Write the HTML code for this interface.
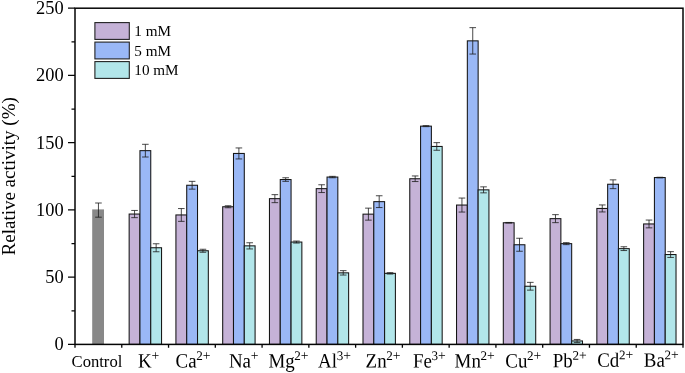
<!DOCTYPE html>
<html lang="en"><head><meta charset="utf-8"><title>Relative activity</title>
<style>html,body{margin:0;padding:0;background:#fff;}body{width:685px;height:373px;overflow:hidden;}svg{display:block;}text{font-family:"Liberation Serif","Times New Roman",serif;fill:#000;}</style>
</head><body>
<svg width="685" height="373" viewBox="0 0 685 373">
<rect x="0" y="0" width="685" height="373" fill="#ffffff"/>
<g>
<rect x="92.2" y="209.4" width="11.8" height="135" fill="#888888"/>
<path d="M98.45 203V217.2M95.15 203H101.75M95.15 217.2H101.75" fill="none" stroke="#1c1c1c" stroke-width="0.8"/>
</g>
<g>
<rect x="129.15" y="214.05" width="10.8" height="130.35" fill="#C5B2D7" stroke="#141414" stroke-width="1.05"/>
<rect x="139.95" y="150.65" width="10.8" height="193.75" fill="#9AB8F6" stroke="#141414" stroke-width="1.05"/>
<rect x="150.75" y="247.75" width="10.8" height="96.65" fill="#B2E6EA" stroke="#141414" stroke-width="1.05"/>
<path d="M134.55 210.45V217.65M131.25 210.45H137.85M131.25 217.65H137.85" fill="none" stroke="#1c1c1c" stroke-width="0.8"/>
<path d="M145.35 144.3V157M142.05 144.3H148.65M142.05 157H148.65" fill="none" stroke="#1c1c1c" stroke-width="0.8"/>
<path d="M156.15 243.75V251.75M152.85 243.75H159.45M152.85 251.75H159.45" fill="none" stroke="#1c1c1c" stroke-width="0.8"/>
</g>
<g>
<rect x="175.92" y="214.95" width="10.8" height="129.45" fill="#C5B2D7" stroke="#141414" stroke-width="1.05"/>
<rect x="186.72" y="185.25" width="10.8" height="159.15" fill="#9AB8F6" stroke="#141414" stroke-width="1.05"/>
<rect x="197.52" y="250.75" width="10.8" height="93.65" fill="#B2E6EA" stroke="#141414" stroke-width="1.05"/>
<path d="M181.32 208.55V221.35M178.02 208.55H184.62M178.02 221.35H184.62" fill="none" stroke="#1c1c1c" stroke-width="0.8"/>
<path d="M192.12 181.35V189.15M188.82 181.35H195.42M188.82 189.15H195.42" fill="none" stroke="#1c1c1c" stroke-width="0.8"/>
<path d="M202.92 249.25V252.25M199.62 249.25H206.22M199.62 252.25H206.22" fill="none" stroke="#1c1c1c" stroke-width="0.8"/>
</g>
<g>
<rect x="222.69" y="206.75" width="10.8" height="137.65" fill="#C5B2D7" stroke="#141414" stroke-width="1.05"/>
<rect x="233.49" y="153.45" width="10.8" height="190.95" fill="#9AB8F6" stroke="#141414" stroke-width="1.05"/>
<rect x="244.29" y="245.85" width="10.8" height="98.55" fill="#B2E6EA" stroke="#141414" stroke-width="1.05"/>
<path d="M228.09 205.75V207.75M224.79 205.75H231.39M224.79 207.75H231.39" fill="none" stroke="#1c1c1c" stroke-width="0.8"/>
<path d="M238.89 147.95V158.95M235.59 147.95H242.19M235.59 158.95H242.19" fill="none" stroke="#1c1c1c" stroke-width="0.8"/>
<path d="M249.69 242.75V248.95M246.39 242.75H252.99M246.39 248.95H252.99" fill="none" stroke="#1c1c1c" stroke-width="0.8"/>
</g>
<g>
<rect x="269.46" y="198.65" width="10.8" height="145.75" fill="#C5B2D7" stroke="#141414" stroke-width="1.05"/>
<rect x="280.26" y="179.55" width="10.8" height="164.85" fill="#9AB8F6" stroke="#141414" stroke-width="1.05"/>
<rect x="291.06" y="242.05" width="10.8" height="102.35" fill="#B2E6EA" stroke="#141414" stroke-width="1.05"/>
<path d="M274.86 194.65V202.65M271.56 194.65H278.16M271.56 202.65H278.16" fill="none" stroke="#1c1c1c" stroke-width="0.8"/>
<path d="M285.66 177.75V181.35M282.36 177.75H288.96M282.36 181.35H288.96" fill="none" stroke="#1c1c1c" stroke-width="0.8"/>
<path d="M296.46 241.05V243.05M293.16 241.05H299.76M293.16 243.05H299.76" fill="none" stroke="#1c1c1c" stroke-width="0.8"/>
</g>
<g>
<rect x="316.23" y="188.65" width="10.8" height="155.75" fill="#C5B2D7" stroke="#141414" stroke-width="1.05"/>
<rect x="327.03" y="177.05" width="10.8" height="167.35" fill="#9AB8F6" stroke="#141414" stroke-width="1.05"/>
<rect x="337.83" y="272.85" width="10.8" height="71.55" fill="#B2E6EA" stroke="#141414" stroke-width="1.05"/>
<path d="M321.63 184.75V192.55M318.33 184.75H324.93M318.33 192.55H324.93" fill="none" stroke="#1c1c1c" stroke-width="0.8"/>
<path d="M332.43 176.35V177.75M329.13 176.35H335.73M329.13 177.75H335.73" fill="none" stroke="#1c1c1c" stroke-width="0.8"/>
<path d="M343.23 270.65V275.05M339.93 270.65H346.53M339.93 275.05H346.53" fill="none" stroke="#1c1c1c" stroke-width="0.8"/>
</g>
<g>
<rect x="363" y="214.15" width="10.8" height="130.25" fill="#C5B2D7" stroke="#141414" stroke-width="1.05"/>
<rect x="373.8" y="201.65" width="10.8" height="142.75" fill="#9AB8F6" stroke="#141414" stroke-width="1.05"/>
<rect x="384.6" y="273.35" width="10.8" height="71.05" fill="#B2E6EA" stroke="#141414" stroke-width="1.05"/>
<path d="M368.4 208.15V220.15M365.1 208.15H371.7M365.1 220.15H371.7" fill="none" stroke="#1c1c1c" stroke-width="0.8"/>
<path d="M379.2 195.75V207.55M375.9 195.75H382.5M375.9 207.55H382.5" fill="none" stroke="#1c1c1c" stroke-width="0.8"/>
<path d="M390 272.65V274.05M386.7 272.65H393.3M386.7 274.05H393.3" fill="none" stroke="#1c1c1c" stroke-width="0.8"/>
</g>
<g>
<rect x="409.77" y="178.75" width="10.8" height="165.65" fill="#C5B2D7" stroke="#141414" stroke-width="1.05"/>
<rect x="420.57" y="126.15" width="10.8" height="218.25" fill="#9AB8F6" stroke="#141414" stroke-width="1.05"/>
<rect x="431.37" y="146.45" width="10.8" height="197.95" fill="#B2E6EA" stroke="#141414" stroke-width="1.05"/>
<path d="M415.17 175.95V181.55M411.87 175.95H418.47M411.87 181.55H418.47" fill="none" stroke="#1c1c1c" stroke-width="0.8"/>
<path d="M425.97 125.65V126.65M422.67 125.65H429.27M422.67 126.65H429.27" fill="none" stroke="#1c1c1c" stroke-width="0.8"/>
<path d="M436.77 142.65V150.25M433.47 142.65H440.07M433.47 150.25H440.07" fill="none" stroke="#1c1c1c" stroke-width="0.8"/>
</g>
<g>
<rect x="456.54" y="205.05" width="10.8" height="139.35" fill="#C5B2D7" stroke="#141414" stroke-width="1.05"/>
<rect x="467.34" y="40.85" width="10.8" height="303.55" fill="#9AB8F6" stroke="#141414" stroke-width="1.05"/>
<rect x="478.14" y="189.85" width="10.8" height="154.55" fill="#B2E6EA" stroke="#141414" stroke-width="1.05"/>
<path d="M461.94 198.05V212.05M458.64 198.05H465.24M458.64 212.05H465.24" fill="none" stroke="#1c1c1c" stroke-width="0.8"/>
<path d="M472.74 27.65V54.05M469.44 27.65H476.04M469.44 54.05H476.04" fill="none" stroke="#1c1c1c" stroke-width="0.8"/>
<path d="M483.54 186.85V192.85M480.24 186.85H486.84M480.24 192.85H486.84" fill="none" stroke="#1c1c1c" stroke-width="0.8"/>
</g>
<g>
<rect x="503.31" y="222.75" width="10.8" height="121.65" fill="#C5B2D7" stroke="#141414" stroke-width="1.05"/>
<rect x="514.11" y="244.75" width="10.8" height="99.65" fill="#9AB8F6" stroke="#141414" stroke-width="1.05"/>
<rect x="524.91" y="286.25" width="10.8" height="58.15" fill="#B2E6EA" stroke="#141414" stroke-width="1.05"/>
<path d="M508.71 222.45V223.05M505.41 222.45H512.01M505.41 223.05H512.01" fill="none" stroke="#1c1c1c" stroke-width="0.8"/>
<path d="M519.51 238.25V251.25M516.21 238.25H522.81M516.21 251.25H522.81" fill="none" stroke="#1c1c1c" stroke-width="0.8"/>
<path d="M530.31 282.35V290.15M527.01 282.35H533.61M527.01 290.15H533.61" fill="none" stroke="#1c1c1c" stroke-width="0.8"/>
</g>
<g>
<rect x="550.08" y="218.65" width="10.8" height="125.75" fill="#C5B2D7" stroke="#141414" stroke-width="1.05"/>
<rect x="560.88" y="243.65" width="10.8" height="100.75" fill="#9AB8F6" stroke="#141414" stroke-width="1.05"/>
<rect x="571.68" y="340.95" width="10.8" height="3.45" fill="#B2E6EA" stroke="#141414" stroke-width="1.05"/>
<path d="M555.48 214.65V222.65M552.18 214.65H558.78M552.18 222.65H558.78" fill="none" stroke="#1c1c1c" stroke-width="0.8"/>
<path d="M566.28 242.65V244.65M562.98 242.65H569.58M562.98 244.65H569.58" fill="none" stroke="#1c1c1c" stroke-width="0.8"/>
<path d="M577.08 339.45V342.45M573.78 339.45H580.38M573.78 342.45H580.38" fill="none" stroke="#1c1c1c" stroke-width="0.8"/>
</g>
<g>
<rect x="596.85" y="208.45" width="10.8" height="135.95" fill="#C5B2D7" stroke="#141414" stroke-width="1.05"/>
<rect x="607.65" y="184.25" width="10.8" height="160.15" fill="#9AB8F6" stroke="#141414" stroke-width="1.05"/>
<rect x="618.45" y="248.65" width="10.8" height="95.75" fill="#B2E6EA" stroke="#141414" stroke-width="1.05"/>
<path d="M602.25 204.95V211.95M598.95 204.95H605.55M598.95 211.95H605.55" fill="none" stroke="#1c1c1c" stroke-width="0.8"/>
<path d="M613.05 179.85V188.65M609.75 179.85H616.35M609.75 188.65H616.35" fill="none" stroke="#1c1c1c" stroke-width="0.8"/>
<path d="M623.85 246.75V250.55M620.55 246.75H627.15M620.55 250.55H627.15" fill="none" stroke="#1c1c1c" stroke-width="0.8"/>
</g>
<g>
<rect x="643.62" y="223.95" width="10.8" height="120.45" fill="#C5B2D7" stroke="#141414" stroke-width="1.05"/>
<rect x="654.42" y="177.55" width="10.8" height="166.85" fill="#9AB8F6" stroke="#141414" stroke-width="1.05"/>
<rect x="665.22" y="254.55" width="10.8" height="89.85" fill="#B2E6EA" stroke="#141414" stroke-width="1.05"/>
<path d="M649.02 220.05V227.85M645.72 220.05H652.32M645.72 227.85H652.32" fill="none" stroke="#1c1c1c" stroke-width="0.8"/>
<path d="M659.82 177.25V177.85M656.52 177.25H663.12M656.52 177.85H663.12" fill="none" stroke="#1c1c1c" stroke-width="0.8"/>
<path d="M670.62 251.65V257.45M667.32 251.65H673.92M667.32 257.45H673.92" fill="none" stroke="#1c1c1c" stroke-width="0.8"/>
</g>
<rect x="75" y="8.2" width="608" height="336.2" fill="none" stroke="#050505" stroke-width="1.5"/>
<path d="M75 344.4H68M75 310.78H71.5M75 277.16H68M75 243.54H71.5M75 209.92H68M75 176.3H71.5M75 142.68H68M75 109.06H71.5M75 75.44H68M75 41.82H71.5M75 8.2H68M75 344.4V347.7M121.77 344.4V347.7M168.54 344.4V347.7M215.31 344.4V347.7M262.08 344.4V347.7M308.85 344.4V347.7M355.62 344.4V347.7M402.38 344.4V347.7M449.15 344.4V347.7M495.92 344.4V347.7M542.69 344.4V347.7M589.46 344.4V347.7M636.23 344.4V347.7M683 344.4V347.7" fill="none" stroke="#050505" stroke-width="1.3"/>
<text x="63.6" y="350.3" font-size="18.4" text-anchor="end">0</text>
<text x="63.6" y="283.06" font-size="18.4" text-anchor="end">50</text>
<text x="63.6" y="215.82" font-size="18.4" text-anchor="end">100</text>
<text x="63.6" y="148.58" font-size="18.4" text-anchor="end">150</text>
<text x="63.6" y="81.34" font-size="18.4" text-anchor="end">200</text>
<text x="63.6" y="14.1" font-size="18.4" text-anchor="end">250</text>
<text transform="translate(15.3 176.3) rotate(-90)" font-size="19" text-anchor="middle">Relative activity (%)</text>
<text x="71.6" y="367" font-size="16.6">Control</text>
<text transform="translate(138.1 367.45) rotate(0.05) scale(1 1.075)" font-size="18.9">K</text>
<text transform="translate(151.45 360) rotate(0.05)" font-size="13.7">+</text>
<text transform="translate(175.6 367.45) rotate(0.05) scale(1 1.075)" font-size="18.9">Ca</text>
<text transform="translate(196.29 360) rotate(0.05)" font-size="13.1">2</text>
<text transform="translate(202.74 360) rotate(0.05)" font-size="13.7">+</text>
<text transform="translate(228.9 367.45) rotate(0.05) scale(1 1.075)" font-size="18.9">Na</text>
<text transform="translate(250.64 360) rotate(0.05)" font-size="13.7">+</text>
<text transform="translate(268.4 367.45) rotate(0.05) scale(1 1.075)" font-size="18.9">Mg</text>
<text transform="translate(294.36 360) rotate(0.05)" font-size="13.1">2</text>
<text transform="translate(300.81 360) rotate(0.05)" font-size="13.7">+</text>
<text transform="translate(318.1 367.45) rotate(0.05) scale(1 1.075)" font-size="18.9">Al</text>
<text transform="translate(336.7 360) rotate(0.05)" font-size="13.1">3</text>
<text transform="translate(343.15 360) rotate(0.05)" font-size="13.7">+</text>
<text transform="translate(365.6 367.45) rotate(0.05) scale(1 1.075)" font-size="18.9">Zn</text>
<text transform="translate(386.29 360) rotate(0.05)" font-size="13.1">2</text>
<text transform="translate(392.74 360) rotate(0.05)" font-size="13.7">+</text>
<text transform="translate(413 367.45) rotate(0.05) scale(1 1.075)" font-size="18.9">Fe</text>
<text transform="translate(431.6 360) rotate(0.05)" font-size="13.1">3</text>
<text transform="translate(438.05 360) rotate(0.05)" font-size="13.7">+</text>
<text transform="translate(454.6 367.45) rotate(0.05) scale(1 1.075)" font-size="18.9">Mn</text>
<text transform="translate(480.56 360) rotate(0.05)" font-size="13.1">2</text>
<text transform="translate(487.01 360) rotate(0.05)" font-size="13.7">+</text>
<text transform="translate(505.3 367.45) rotate(0.05) scale(1 1.075)" font-size="18.9">Cu</text>
<text transform="translate(527.06 360) rotate(0.05)" font-size="13.1">2</text>
<text transform="translate(533.51 360) rotate(0.05)" font-size="13.7">+</text>
<text transform="translate(552.8 367.25) rotate(0.05) scale(1 1.075)" font-size="18.9">Pb</text>
<text transform="translate(572.46 359.8) rotate(0.05)" font-size="13.1">2</text>
<text transform="translate(578.91 359.8) rotate(0.05)" font-size="13.7">+</text>
<text transform="translate(597.2 366.75) rotate(0.05) scale(1 1.075)" font-size="18.9">Cd</text>
<text transform="translate(618.96 359.3) rotate(0.05)" font-size="13.1">2</text>
<text transform="translate(625.41 359.3) rotate(0.05)" font-size="13.7">+</text>
<text transform="translate(643.8 366.75) rotate(0.05) scale(1 1.075)" font-size="18.9">Ba</text>
<text transform="translate(664.49 359.3) rotate(0.05)" font-size="13.1">2</text>
<text transform="translate(670.94 359.3) rotate(0.05)" font-size="13.7">+</text>
<rect x="94.9" y="22.6" width="34.4" height="16.8" fill="#C5B2D7" stroke="#222" stroke-width="1.1"/>
<text x="134.3" y="36.4" font-size="15.2">1 mM</text>
<rect x="94.9" y="42.1" width="34.4" height="16.8" fill="#9AB8F6" stroke="#222" stroke-width="1.1"/>
<text x="134.3" y="55.9" font-size="15.2">5 mM</text>
<rect x="94.9" y="61.6" width="34.4" height="16.8" fill="#B2E6EA" stroke="#222" stroke-width="1.1"/>
<text x="134.3" y="75.4" font-size="15.2">10 mM</text>
</svg>
</body></html>
